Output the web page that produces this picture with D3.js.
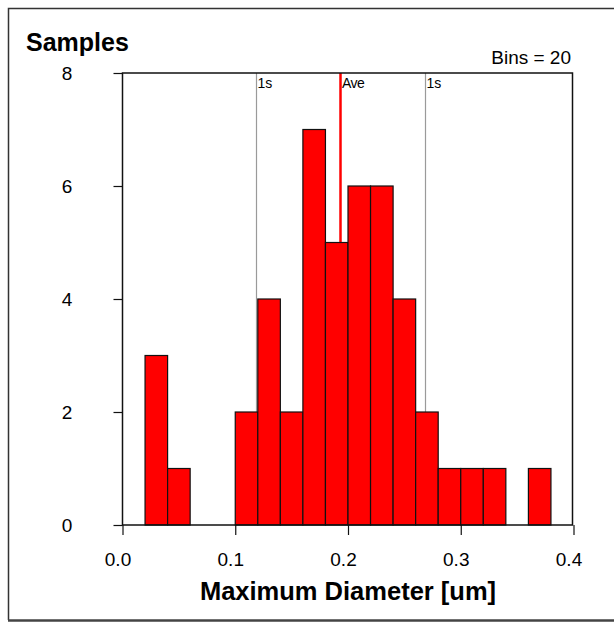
<!DOCTYPE html>
<html>
<head>
<meta charset="utf-8">
<script src="https://cdn.jsdelivr.net/npm/d3@7"></script>
<style>
  html, body { margin: 0; padding: 0; background: #fff; }
  svg { display: block; font-family: "Liberation Sans", Arial, sans-serif; }
</style>
</head>
<body>
<svg id="chart" width="614" height="622"></svg>
<script>
// Histogram of maximum particle diameter, 20 bins of 0.02 um
const binStart = [0.00, 0.02, 0.04, 0.06, 0.08, 0.10, 0.12, 0.14, 0.16, 0.18,
                  0.20, 0.22, 0.24, 0.26, 0.28, 0.30, 0.32, 0.34, 0.36, 0.38];
const binEnd   = [0.02, 0.04, 0.06, 0.08, 0.10, 0.12, 0.14, 0.16, 0.18, 0.20,
                  0.22, 0.24, 0.26, 0.28, 0.30, 0.32, 0.34, 0.36, 0.38, 0.40];
const counts   = [0, 3, 1, 0, 0, 2, 4, 2, 7, 5, 6, 6, 4, 2, 1, 1, 1, 0, 1, 0];

// Reference lines: mean and one standard deviation either side
const refLines = [
  { label: "1s",  value: 0.118, kind: "sd" },
  { label: "Ave", value: 0.193, kind: "mean" },
  { label: "1s",  value: 0.268, kind: "sd" }
];

const xTicks = [0.0, 0.1, 0.2, 0.3, 0.4];
const yTicks = [0, 2, 4, 6, 8];

const svg = d3.select("#chart");

const x = d3.scaleLinear().domain([0, 0.4]).range([122.5, 573.5]);
const y = d3.scaleLinear().domain([0, 8]).range([525, 73]);

// Outer frame
svg.append("path")
  .attr("d", "M8.5,620 L8.5,8.5 L614,8.5")
  .attr("fill", "none").attr("stroke", "#333").attr("stroke-width", 1.5);
svg.append("line")
  .attr("x1", 8).attr("x2", 614).attr("y1", 620.5).attr("y2", 620.5)
  .attr("stroke", "#444").attr("stroke-width", 2.5);

// Reference lines (drawn beneath the bars)
const refG = svg.append("g");
refLines.forEach(d => {
  const xp = Math.round(x(d.value)) + 0.5;
  refG.append("line")
    .attr("x1", xp).attr("x2", xp)
    .attr("y1", y(8)).attr("y2", y(0))
    .attr("stroke", d.kind === "mean" ? "#ff0000" : "#9a9a9a")
    .attr("stroke-width", d.kind === "mean" ? 2.5 : 1.2);
  refG.append("text")
    .attr("x", xp + (d.kind === "mean" ? 1.5 : 1))
    .attr("y", 88)
    .attr("font-size", 14)
    .attr("letter-spacing", d.kind === "mean" ? -0.6 : 0)
    .attr("fill", "#000")
    .text(d.label);
});

// Bars
const bins = counts.map((c, i) => ({ x0: binStart[i], x1: binEnd[i], n: c }))
  .filter(d => d.n > 0);
svg.append("g").selectAll("rect")
  .data(bins)
  .join("rect")
  .attr("x", d => x(d.x0))
  .attr("y", d => y(d.n))
  .attr("width", d => x(d.x1) - x(d.x0))
  .attr("height", d => y(0) - y(d.n))
  .attr("fill", "#ff0000")
  .attr("stroke", "#111")
  .attr("stroke-width", 1.2);

// Plot border
svg.append("rect")
  .attr("x", x(0)).attr("y", y(8))
  .attr("width", 572.5 - x(0)).attr("height", y(0) - y(8))
  .attr("fill", "none").attr("stroke", "#111").attr("stroke-width", 1.5);

// Y axis
const yAxis = svg.append("g")
  .attr("transform", `translate(${x(0)},0)`)
  .call(d3.axisLeft(y).tickValues(yTicks).tickSize(9).tickFormat(d3.format("d")));
yAxis.select(".domain").remove();
yAxis.selectAll(".tick line").attr("stroke", "#111").attr("stroke-width", 1.2);
yAxis.selectAll(".tick text")
  .attr("x", -55.5).attr("text-anchor", "middle")
  .attr("font-size", 19).attr("fill", "#000")
  .attr("font-family", "Liberation Sans, Arial, sans-serif");

// X axis
const xAxis = svg.append("g")
  .attr("transform", `translate(0,${y(0)})`)
  .call(d3.axisBottom(x).tickValues(xTicks).tickSize(10).tickFormat(d3.format(".1f")));
xAxis.select(".domain").remove();
xAxis.selectAll(".tick line").attr("stroke", "#111").attr("stroke-width", 1.2);
xAxis.selectAll(".tick text")
  .attr("x", -5).attr("y", 41).attr("dy", 0)
  .attr("font-size", 19).attr("fill", "#000")
  .attr("font-family", "Liberation Sans, Arial, sans-serif");

// Titles
svg.append("text")
  .attr("x", 26).attr("y", 51)
  .attr("font-size", 25).attr("font-weight", "bold")
  .text("Samples");
svg.append("text")
  .attr("x", 571).attr("y", 64).attr("text-anchor", "end")
  .attr("font-size", 19)
  .text("Bins = 20");
svg.append("text")
  .attr("x", 348).attr("y", 600).attr("text-anchor", "middle")
  .attr("font-size", 25.5).attr("font-weight", "bold")
  .text("Maximum Diameter [um]");
</script>
</body>
</html>
